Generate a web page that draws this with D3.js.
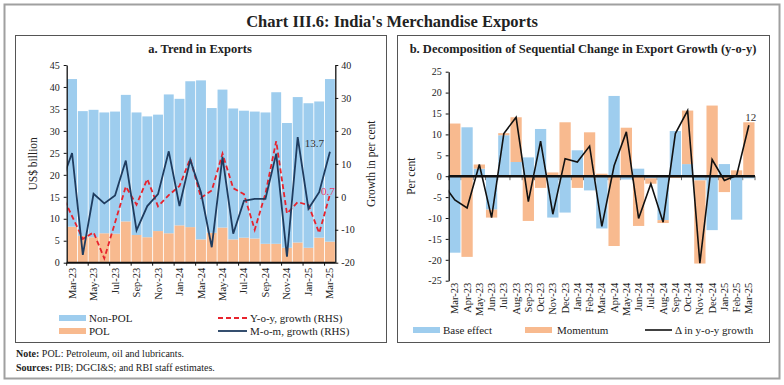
<!DOCTYPE html>
<html>
<head>
<meta charset="utf-8">
<script src="https://cdn.jsdelivr.net/npm/d3@7"></script>
<style>
body { margin: 0; background: #fff; }
svg text { font-family: "Liberation Serif", "DejaVu Serif", serif; fill: #222; }
</style>
</head>
<body>
<svg id="svg" width="784" height="385"></svg>
<script>
// months shown on both panels
var months = ["Mar-23","Apr-23","May-23","Jun-23","Jul-23","Aug-23","Sep-23","Oct-23","Nov-23","Dec-23",
              "Jan-24","Feb-24","Mar-24","Apr-24","May-24","Jun-24","Jul-24","Aug-24","Sep-24","Oct-24",
              "Nov-24","Dec-24","Jan-25","Feb-25","Mar-25"];
// the lines start one month earlier, that point is cut off at the axis
var lineMonths = ["Feb-23"].concat(months);

// panel a: US$ billion
var polExports    = [8.2, 6.1, 5.8, 6.7, 6.6, 9.4, 6.3, 5.8, 7.2, 6.7, 8.5, 8.1, 5.3, 6.8, 8.0, 5.3, 5.7, 5.5, 4.3, 4.3, 3.4, 4.6, 3.4, 5.7, 4.8];
var nonPolExports = [33.6, 28.4, 29.0, 27.5, 27.8, 28.8, 27.9, 27.5, 26.5, 31.6, 28.8, 33.2, 36.2, 28.4, 31.4, 29.8, 28.9, 28.9, 29.9, 34.5, 28.4, 33.1, 32.9, 31.0, 37.0];
// panel a: per cent (RHS), Feb-23 first
var yoyGrowth = [1.0, -5.9, -12.8, -10.8, -18.7, -7.8, 3.1, -2.4, 5.4, -2.9, 0.5, 3.3, 11.6, -0.3, 1.9, 13.1, 2.6, 0.8, -10.0, 1.0, 16.9, -5.1, -1.6, -2.5, -11.0, 0.7];
var momGrowth = [4.2, 13.3, -17.6, 0.9, -2.0, 0.4, 11.0, -10.2, -2.8, 0.8, 13.8, -2.8, 11.2, 1.3, -15.3, 12.1, -11.2, -1.2, -0.6, -0.6, 13.1, -18.2, 18.1, -3.6, 1.4, 13.7];

// panel b: per cent
var baseEffect = [-18.3, 11.7, 1.8, -8.0, 9.8, 3.4, 4.5, 11.3, -9.9, -8.7, 6.2, -3.4, -12.5, 19.2, -0.8, 1.8, -0.5, -10.5, 10.8, 2.9, -1.0, -12.9, 2.9, -10.4, -0.5];
var momentum   = [12.6, -19.3, 1.0, -1.9, 0.5, 10.7, -10.7, -2.8, 0.9, 12.9, -2.8, 10.5, 0.6, -16.7, 11.6, -11.9, -1.3, -0.7, -0.4, 12.8, -19.9, 16.9, -3.8, 1.4, 12.9];
var yoyChange  = [-1.7, -5.7, -7.6, 2.8, -9.9, 10.2, 14.1, -6.1, 8.4, -9.1, 4.2, 3.4, 7.2, -12.0, 2.5, 10.6, -10.1, -1.8, -11.0, 10.2, 15.7, -20.8, 4.0, -1.0, 0.2, 12.2];

var leftTicks = [0, 5, 10, 15, 20, 25, 30, 35, 40, 45];
var rightTicks = [-20, -10, 0, 10, 20, 30, 40];
var pctTicks = [-25, -20, -15, -10, -5, 0, 5, 10, 15, 20, 25];

var blue = "#9ecdee", orange = "#f8ba8f", navy = "#1f3c5f", red = "#e8232d";

//////////////////////////////////////////////////////////////////////////////

var svg = d3.select("#svg");
var defs = svg.append("defs");

// frames
svg.append("rect").attr("x", 4.5).attr("y", 4.5).attr("width", 775).attr("height", 374)
    .attr("fill", "none").attr("stroke", "#a0a0a0").attr("stroke-width", 2);
svg.append("rect").attr("x", 15.5).attr("y", 35.5).attr("width", 371).attr("height", 307)
    .attr("fill", "none").attr("stroke", "#555").attr("stroke-width", 1);
svg.append("rect").attr("x", 397.5).attr("y", 35.5).attr("width", 372).attr("height", 307)
    .attr("fill", "none").attr("stroke", "#555").attr("stroke-width", 1);

svg.append("text").attr("x", 392).attr("y", 27).attr("text-anchor", "middle")
    .style("font-size", "16.5px").style("font-weight", "bold")
    .text("Chart III.6: India's Merchandise Exports");
svg.append("text").attr("x", 200).attr("y", 53).attr("text-anchor", "middle")
    .style("font-size", "12.5px").style("font-weight", "bold")
    .text("a. Trend in Exports");
svg.append("text").attr("x", 583).attr("y", 53).attr("text-anchor", "middle")
    .style("font-size", "12.5px").style("font-weight", "bold")
    .text("b. Decomposition of Sequential Change in Export Growth (y-o-y)");

var note = svg.append("text").attr("x", 16).attr("y", 357).style("font-size", "10px");
note.append("tspan").style("font-weight", "bold").text("Note:");
note.append("tspan").text(" POL: Petroleum, oil and lubricants.");
var src = svg.append("text").attr("x", 16).attr("y", 371).style("font-size", "10px");
src.append("tspan").style("font-weight", "bold").text("Sources:");
src.append("tspan").text(" PIB; DGCI&S; and RBI staff estimates.");

//////////////////////////////////////////////////////////////////////////////
// PANEL A

var ax0 = 66.7, ax1 = 335.3, ay0 = 65, ay1 = 262.7;

var xa = d3.scaleBand().domain(months).range([ax0, ax1]).paddingInner(0.08).paddingOuter(0.04);
var xaIdx = d3.scaleLinear().domain([-0.5, months.length - 0.5]).range([ax0, ax1]);
var yaL = d3.scaleLinear().domain([0, 45]).range([ay1, ay0]);
var yaR = d3.scaleLinear().domain([-20, 40]).range([ay1, ay0]);

var tableA = months.map(function(m, i) {
    return { month: m, pol: polExports[i], nonpol: nonPolExports[i] };
});
var stackA = d3.stack().keys(["pol", "nonpol"])(tableA);

var ga = svg.append("g");
ga.selectAll("g.series")
    .data(stackA)
    .enter()
    .append("g")
    .attr("fill", function(s) { return s.key === "pol" ? orange : blue; })
    .selectAll("rect")
    .data(function(s) { return s; })
    .enter()
    .append("rect")
    .attr("x", function(d) { return xa(d.data.month); })
    .attr("width", xa.bandwidth())
    .attr("y", function(d) { return yaL(d[1]); })
    .attr("height", function(d) { return yaL(d[0]) - yaL(d[1]); });

defs.append("clipPath").attr("id", "clipA").append("rect")
    .attr("x", ax0).attr("y", ay0 - 5).attr("width", ax1 - ax0).attr("height", ay1 - ay0 + 5);

var lineA = d3.line()
    .x(function(d, i) { return xaIdx(i - 1); })
    .y(function(d) { return yaR(d); });

ga.append("path").datum(yoyGrowth).attr("d", lineA).attr("clip-path", "url(#clipA)")
    .attr("fill", "none").attr("stroke", red).attr("stroke-width", 1.8).attr("stroke-dasharray", "5,3");
ga.append("path").datum(momGrowth).attr("d", lineA).attr("clip-path", "url(#clipA)")
    .attr("fill", "none").attr("stroke", navy).attr("stroke-width", 1.8);

var lastI = months.length;
ga.append("text").attr("x", xaIdx(lastI - 1) - 6).attr("y", yaR(momGrowth[lastI]) - 5)
    .attr("text-anchor", "end").style("font-size", "11px").style("fill", "#333")
    .text(momGrowth[lastI]);
ga.append("text").attr("x", xaIdx(lastI - 1) - 2).attr("y", yaR(yoyGrowth[lastI]) + 1)
    .attr("text-anchor", "middle").style("font-size", "11px").style("fill", "#ee3a63")
    .text(yoyGrowth[lastI]);

// axes
var axL = ga.append("g").attr("transform", "translate(" + ax0 + ",0)")
    .call(d3.axisLeft(yaL).tickValues(leftTicks).tickSize(3).tickPadding(4).tickSizeOuter(0));
var axR = ga.append("g").attr("transform", "translate(" + ax1 + ",0)")
    .call(d3.axisRight(yaR).tickValues(rightTicks).tickSize(3).tickPadding(3).tickSizeOuter(0)
        .tickFormat(function(d) { return String(d); }));
[axL, axR].forEach(function(ax) {
    ax.select(".domain").attr("stroke", "#111").attr("stroke-width", 1.3);
    ax.selectAll(".tick line").attr("stroke", "#111");
    ax.selectAll("text").style("font-size", "10px").style("font-family", null).attr("fill", null);
});

var tickIdx = d3.range(0, months.length + 1, 2);
ga.selectAll("line.xtick").data(tickIdx).enter().append("line")
    .attr("x1", function(i) { return xaIdx(i - 0.5); }).attr("x2", function(i) { return xaIdx(i - 0.5); })
    .attr("y1", ay1).attr("y2", ay1 + 3).attr("stroke", "#111");
ga.append("line").attr("x1", ax0).attr("x2", ax1).attr("y1", ay1).attr("y2", ay1)
    .attr("stroke", "#111").attr("stroke-width", 2);
ga.selectAll("text.xlab").data(months.filter(function(m, i) { return i % 2 === 0; }))
    .enter().append("text")
    .attr("transform", function(m) {
        return "translate(" + (xa(m) + xa.bandwidth() / 2 + 3.5) + "," + (ay1 + 5) + ") rotate(-90)";
    })
    .attr("text-anchor", "end").style("font-size", "10.5px")
    .text(function(m) { return m; });

svg.append("text").attr("transform", "translate(37," + ((ay0 + ay1) / 2) + ") rotate(-90)")
    .attr("text-anchor", "middle").style("font-size", "11.5px").text("US$ billion");
svg.append("text").attr("transform", "translate(375," + ((ay0 + ay1) / 2) + ") rotate(-90)")
    .attr("text-anchor", "middle").style("font-size", "11.5px").text("Growth in per cent");

// legend a
var legA = svg.append("g").style("font-size", "11px");
legA.append("rect").attr("x", 59).attr("y", 315).attr("width", 27).attr("height", 6).attr("fill", blue);
legA.append("text").attr("x", 89).attr("y", 322).text("Non-POL");
legA.append("rect").attr("x", 59).attr("y", 328).attr("width", 27).attr("height", 6).attr("fill", orange);
legA.append("text").attr("x", 89).attr("y", 335).text("POL");
legA.append("line").attr("x1", 218).attr("x2", 247).attr("y1", 318).attr("y2", 318)
    .attr("stroke", red).attr("stroke-width", 1.8).attr("stroke-dasharray", "5,3");
legA.append("text").attr("x", 250).attr("y", 322).text("Y-o-y, growth (RHS)");
legA.append("line").attr("x1", 218).attr("x2", 247).attr("y1", 331).attr("y2", 331)
    .attr("stroke", navy).attr("stroke-width", 1.8);
legA.append("text").attr("x", 250).attr("y", 335).text("M-o-m, growth (RHS)");

//////////////////////////////////////////////////////////////////////////////
// PANEL B

var bx0 = 448.7, bx1 = 755, by0 = 71.7, by1 = 280.7;

var xb = d3.scaleBand().domain(months).range([bx0, bx1]).paddingInner(0.08).paddingOuter(0.04);
var xbIdx = d3.scaleLinear().domain([-0.5, months.length - 0.5]).range([bx0, bx1]);
var yb = d3.scaleLinear().domain([-25, 25]).range([by1, by0]);

var tableB = months.map(function(m, i) {
    return { month: m, base: baseEffect[i], momentum: momentum[i] };
});
var stackB = d3.stack().keys(["base", "momentum"]).offset(d3.stackOffsetDiverging)(tableB);

var gb = svg.append("g");

// small ticks under the zero line, mostly hidden by the bars
gb.selectAll("line.xtick").data(d3.range(0, months.length + 1)).enter().append("line")
    .attr("x1", function(i) { return xbIdx(i - 0.5); }).attr("x2", function(i) { return xbIdx(i - 0.5); })
    .attr("y1", yb(0)).attr("y2", yb(0) + 4).attr("stroke", "#666");

gb.selectAll("g.series")
    .data(stackB)
    .enter()
    .append("g")
    .attr("fill", function(s) { return s.key === "base" ? blue : orange; })
    .selectAll("rect")
    .data(function(s) { return s; })
    .enter()
    .append("rect")
    .attr("x", function(d) { return xb(d.data.month); })
    .attr("width", xb.bandwidth())
    .attr("y", function(d) { return yb(d[1]); })
    .attr("height", function(d) { return yb(d[0]) - yb(d[1]); });

gb.append("line").attr("x1", bx0).attr("x2", bx1).attr("y1", yb(0)).attr("y2", yb(0))
    .attr("stroke", "#111").attr("stroke-width", 2.5);

defs.append("clipPath").attr("id", "clipB").append("rect")
    .attr("x", bx0).attr("y", by0).attr("width", bx1 - bx0).attr("height", by1 - by0);

var lineB = d3.line()
    .x(function(d, i) { return xbIdx(i - 1); })
    .y(function(d) { return yb(d); });
gb.append("path").datum(yoyChange).attr("d", lineB).attr("clip-path", "url(#clipB)")
    .attr("fill", "none").attr("stroke", "#111").attr("stroke-width", 1.6);

gb.append("text").attr("x", xbIdx(lastI - 1) + 2).attr("y", yb(yoyChange[lastI]) - 4)
    .attr("text-anchor", "middle").style("font-size", "11px").style("fill", "#333")
    .text(Math.round(yoyChange[lastI]));

var axB = gb.append("g").attr("transform", "translate(" + bx0 + ",0)")
    .call(d3.axisLeft(yb).tickValues(pctTicks).tickSize(3).tickPadding(4).tickSizeOuter(0)
        .tickFormat(function(d) { return String(d); }));
axB.select(".domain").attr("stroke", "#111").attr("stroke-width", 1.3);
axB.selectAll(".tick line").attr("stroke", "#111");
axB.selectAll("text").style("font-size", "10px").style("font-family", null).attr("fill", null);

gb.selectAll("text.xlab").data(months).enter().append("text")
    .attr("transform", function(m) {
        return "translate(" + (xb(m) + xb.bandwidth() / 2 + 3.5) + "," + (by1 + 2) + ") rotate(-90)";
    })
    .attr("text-anchor", "end").style("font-size", "10.5px")
    .text(function(m) { return m; });

svg.append("text").attr("transform", "translate(415," + ((by0 + by1) / 2) + ") rotate(-90)")
    .attr("text-anchor", "middle").style("font-size", "11.5px").text("Per cent");

// legend b
var legB = svg.append("g").style("font-size", "11px");
legB.append("rect").attr("x", 413).attr("y", 327).attr("width", 27).attr("height", 6).attr("fill", blue);
legB.append("text").attr("x", 443).attr("y", 334).text("Base effect");
legB.append("rect").attr("x", 525).attr("y", 327).attr("width", 27).attr("height", 6).attr("fill", orange);
legB.append("text").attr("x", 557).attr("y", 334).text("Momentum");
legB.append("line").attr("x1", 645).attr("x2", 672).attr("y1", 330).attr("y2", 330)
    .attr("stroke", "#111").attr("stroke-width", 1.6);
legB.append("text").attr("x", 675).attr("y", 334).text("\u0394 in y-o-y growth");
</script>
</body>
</html>
